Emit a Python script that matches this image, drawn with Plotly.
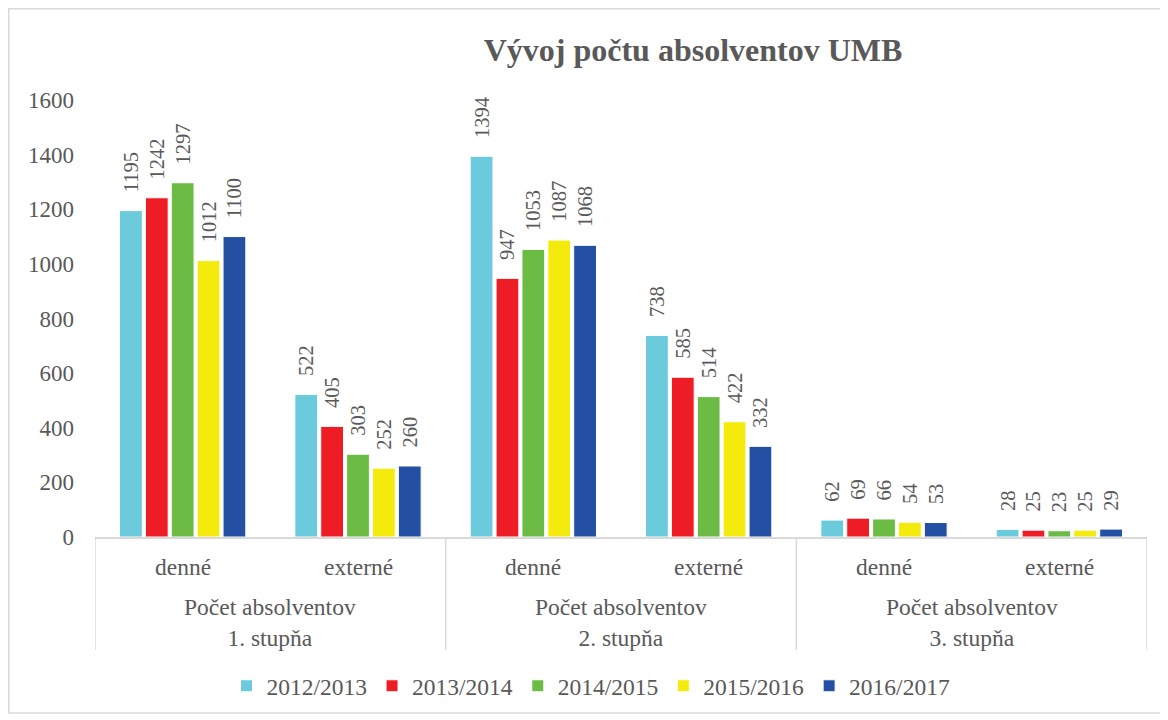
import plotly.graph_objects as go

group_labels = ["Počet absolventov<br>1. stupňa", "Počet absolventov<br>2. stupňa",
                "Počet absolventov<br>3. stupňa"]
forms = ["denné", "externé"]
categories = [f"{g}|{f}" for g in group_labels for f in forms]

years = ["2012/2013", "2013/2014", "2014/2015", "2015/2016", "2016/2017"]
v2012 = [1195, 522, 1394, 738, 62, 28]
v2013 = [1242, 405, 947, 585, 69, 25]
v2014 = [1297, 303, 1053, 514, 66, 23]
v2015 = [1012, 252, 1087, 422, 54, 25]
v2016 = [1100, 260, 1068, 332, 53, 29]
series = [v2012, v2013, v2014, v2015, v2016]
colors = ["#6BCBDC", "#EE1C25", "#6BBB45", "#F4EA0C", "#2450A4"]

GRAY = "#595959"
LINE = "#D9D9D9"
FONT = "Liberation Serif, Times New Roman, serif"

fig = go.Figure()
for name, vals, col in zip(years, series, colors):
    fig.add_trace(go.Bar(
        x=categories, y=vals, name=name,
        marker=dict(color=col, line=dict(color="white", width=1)),
        text=["\u00a0\u00a0\u00a0" + str(v) for v in vals], textposition="outside", textangle=-90,
        textfont=dict(family=FONT, size=20.5, color=GRAY),
        constraintext="none", cliponaxis=False,
    ))

# page is offset by 8px (browser body margin)
W, H = 1160, 712
L, T = 87, 92
plot_right, plot_bottom = 1139, 529
R, B = W - plot_right, H - plot_bottom
pw, ph = plot_right - L, plot_bottom - T

def py(pix):  # figure pixel y -> paper y
    return (plot_bottom - pix) / ph

def px(pix):
    return (pix - L) / pw

fig.update_layout(
    width=W, height=H, autosize=False,
    margin=dict(l=L, r=R, t=T, b=B, autoexpand=False),
    paper_bgcolor="white", plot_bgcolor="white",
    barmode="group", bargap=0.262, bargroupgap=0.12,
    font=dict(family=FONT, color=GRAY),
    title=dict(text="<b>Vývoj počtu absolventov UMB</b>", x=685 / W, xanchor="center",
               y=1 - 42 / H, yanchor="middle",
               font=dict(family=FONT, size=32, color=GRAY)),
    xaxis=dict(type="category", showline=True, linecolor=LINE, linewidth=1.5,
               showticklabels=False, ticks="", showgrid=False, automargin=False,
               range=[-0.5, len(categories) - 0.5]),
    yaxis=dict(range=[0, 1600], dtick=200, showgrid=False, zeroline=False, showline=False,
               tickfont=dict(family=FONT, size=23, color=GRAY), ticks="", ticklabelstandoff=20,
               automargin=False),
    legend=dict(orientation="h", xref="container", yref="container",
                x=583 / W, xanchor="center", y=1 - 678 / H, yanchor="middle",
                font=dict(family=FONT, size=23.5, color=GRAY), itemwidth=30,
                traceorder="normal"),
    showlegend=True,
)

# category labels
for c in categories:
    fig.add_annotation(x=c, xref="x", y=py(559), yref="paper", text=c.split("|")[1],
                       showarrow=False, yanchor="middle",
                       font=dict(family=FONT, size=23.5, color=GRAY))
for i, g in enumerate(group_labels):
    fig.add_annotation(x=2 * i + 0.5, xref="x", y=py(614), yref="paper", text=g,
                       showarrow=False, yanchor="middle",
                       font=dict(family=FONT, size=23.5, color=GRAY))

# dividers
for xd in [-0.5, 1.5, 3.5, 5.5]:
    fig.add_shape(type="line", xref="x", yref="paper", x0=xd, x1=xd, y0=0, y1=py(642),
                  line=dict(color=LINE, width=1.5))

# outer chart border
fig.add_shape(type="rect", xref="paper", yref="paper", x0=px(0.75), x1=px(1155), y0=py(705), y1=py(0.75),
              line=dict(color=LINE, width=1.5), layer="below")

fig.write_html("out.html")
